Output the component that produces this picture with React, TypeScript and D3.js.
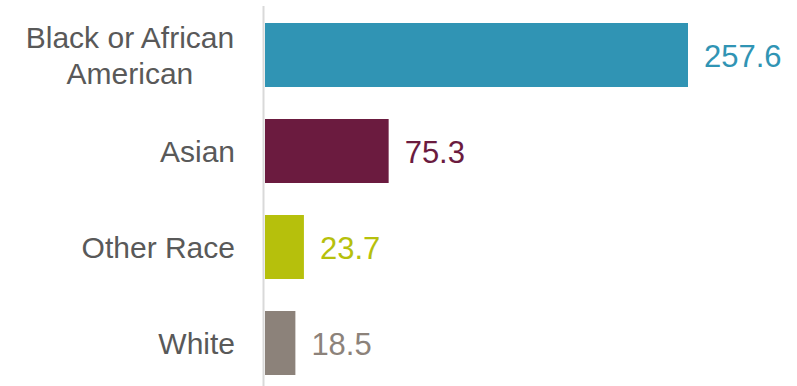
import React from "react";
import * as d3 from "d3";

const categories = ["Black or African American", "Asian", "Other Race", "White"];
const labelLines = [["Black or African", "American"], ["Asian"], ["Other Race"], ["White"]];
const values = [257.6, 75.3, 23.7, 18.5];
const colors = ["#3094B4", "#6B1B3F", "#B6C00C", "#8C827A"];

const W = 797;
const H = 386;
const FONT = "'Liberation Sans', Arial, sans-serif";
const LABEL_SIZE = 30;

function measure(text: string, size: number): number {
  if (typeof document === "undefined") return text.length * size * 0.5;
  const c = document.createElement("canvas").getContext("2d");
  if (!c) return text.length * size * 0.5;
  c.font = `${size}px ${FONT}`;
  return c.measureText(text).width;
}

export default function App() {
  const y = d3.scaleBand<string>().domain(categories).range([7, 391]).paddingInner(1 / 3).paddingOuter(1 / 6);
  const x = d3.scaleLinear().domain([0, 257.6]).range([265, 688]);
  const labelRight = 235;
  return (
    <svg
      width={W}
      height={H}
      style={{ position: "absolute", left: 0, top: 0, background: "#fff" }}
      fontFamily={FONT}
    >
      <line x1={263.5} x2={263.5} y1={6} y2={H} stroke="#D9D9D9" strokeWidth={2} />
      {categories.map((c, i) => {
        const y0 = y(c)!;
        const bw = y.bandwidth();
        const cy = y0 + bw / 2;
        const lines = labelLines[i];
        const lh = 36;
        const maxW = Math.max(...lines.map((l) => measure(l, LABEL_SIZE)));
        const cx = labelRight - maxW / 2;
        return (
          <g key={c}>
            <rect x={x(0)} y={y0} width={x(values[i]) - x(0)} height={bw} fill={colors[i]} />
            {lines.map((ln, j) => (
              <text
                key={j}
                x={lines.length > 1 ? cx : labelRight}
                y={cy + (j - (lines.length - 1) / 2) * lh + 10.5}
                textAnchor={lines.length > 1 ? "middle" : "end"}
                fontSize={LABEL_SIZE}
                fill="#595959"
              >
                {ln}
              </text>
            ))}
            <text x={x(values[i]) + 16} y={cy + 11.5} fontSize={31} fill={colors[i]}>
              {values[i].toFixed(1)}
            </text>
          </g>
        );
      })}
    </svg>
  );
}
